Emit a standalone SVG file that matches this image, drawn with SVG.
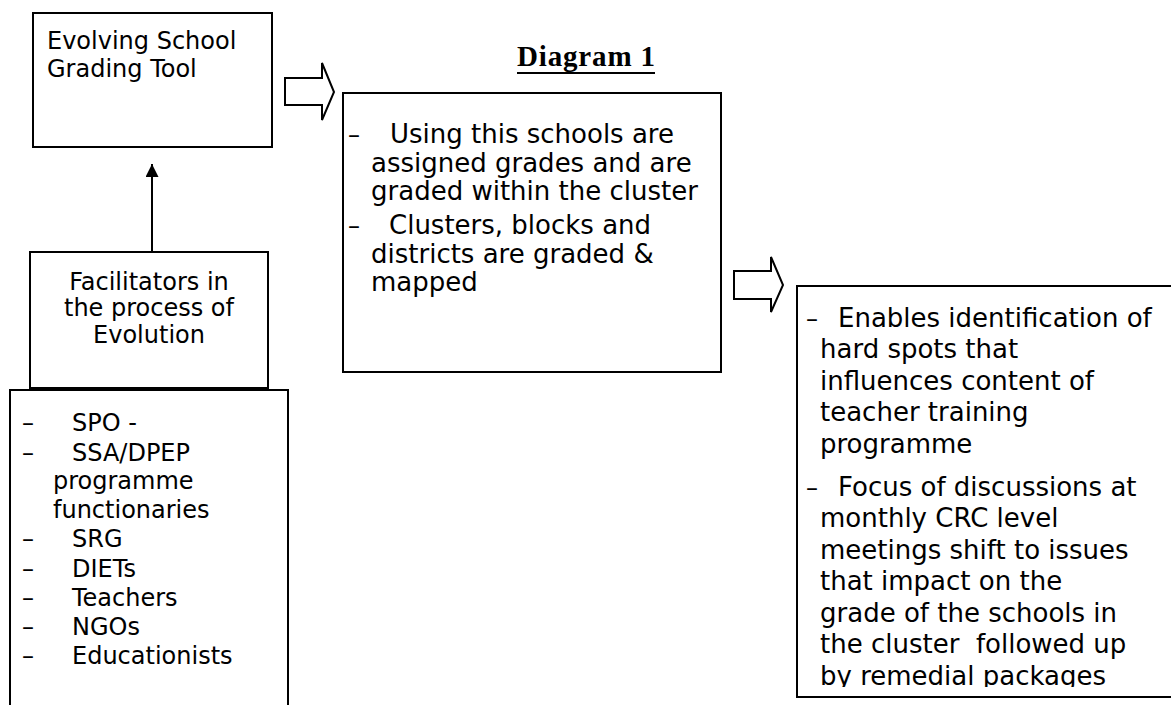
<svg xmlns="http://www.w3.org/2000/svg" width="1171" height="705" viewBox="0 0 1171 705">
<style>
.box{fill:#fff;stroke:#000;stroke-width:2}
.t{font-family:"DejaVu Sans",sans-serif;font-size:24px;fill:#000}
.b{font-size:26px}
.c{text-anchor:middle}
.blk{fill:#fff;stroke:#000;stroke-width:2;stroke-linejoin:miter}
.ttl{font-family:"Liberation Serif",serif;font-weight:bold;font-size:29px;fill:#000}
</style>
<defs>
<marker id="ah" viewBox="0 0 10 10" refX="10" refY="5" markerWidth="6.5" markerHeight="6.5" orient="auto" markerUnits="strokeWidth">
<path d="M0,0 L10,5 L0,10 z" fill="#000"/>
</marker>
<clipPath id="clip5"><rect x="797" y="286" width="380" height="401"/></clipPath>
</defs>
<rect width="1171" height="705" fill="#fff"/>

<g id="title">
<text class="ttl" x="517" y="66" textLength="138">Diagram 1</text>
<line x1="517" y1="73" x2="655" y2="73" stroke="#000" stroke-width="2"/>
</g>

<g id="node-tool">
<rect class="box" x="33" y="13" width="239" height="134"/>
<text class="t" x="47" y="49">Evolving School</text>
<text class="t" x="47" y="77">Grading Tool</text>
</g>

<g id="node-facilitators">
<rect class="box" x="30" y="252" width="238" height="136"/>
<text class="t c" x="149" y="290">Facilitators in</text>
<text class="t c" x="149" y="316">the process of</text>
<text class="t c" x="149" y="343">Evolution</text>
</g>

<g id="node-list">
<rect class="box" x="10" y="390" width="278" height="330"/>
<text class="t" x="22" y="431">–</text><text class="t" x="72" y="431">SPO -</text>
<text class="t" x="22" y="461">–</text><text class="t" x="72" y="461">SSA/DPEP</text>
<text class="t" x="53" y="489">programme</text>
<text class="t" x="53" y="518">functionaries</text>
<text class="t" x="22" y="547">–</text><text class="t" x="72" y="547">SRG</text>
<text class="t" x="22" y="577">–</text><text class="t" x="72" y="577">DIETs</text>
<text class="t" x="22" y="606">–</text><text class="t" x="72" y="606">Teachers</text>
<text class="t" x="22" y="635">–</text><text class="t" x="72" y="635">NGOs</text>
<text class="t" x="22" y="664">–</text><text class="t" x="72" y="664">Educationists</text>
</g>

<g id="node-grading">
<rect class="box" x="343" y="93" width="378" height="279"/>
<text class="t" x="348" y="143">–</text><text class="t b" x="390" y="143">Using this schools are</text>
<text class="t b" x="371" y="172">assigned grades and are</text>
<text class="t b" x="371" y="200">graded within the cluster</text>
<text class="t" x="348" y="234">–</text><text class="t b" x="389" y="234">Clusters, blocks and</text>
<text class="t b" x="371" y="263">districts are graded &amp;</text>
<text class="t b" x="371" y="291">mapped</text>
</g>

<g id="node-outcomes">
<rect class="box" x="797" y="286" width="380" height="411"/>
<g clip-path="url(#clip5)">
<text class="t" x="806" y="327">–</text><text class="t b" x="838" y="327">Enables identification of</text>
<text class="t b" x="820" y="358">hard spots that</text>
<text class="t b" x="820" y="390">influences content of</text>
<text class="t b" x="820" y="421">teacher training</text>
<text class="t b" x="820" y="453">programme</text>
<text class="t" x="806" y="496">–</text><text class="t b" x="838" y="496">Focus of discussions at</text>
<text class="t b" x="820" y="527">monthly CRC level</text>
<text class="t b" x="820" y="559">meetings shift to issues</text>
<text class="t b" x="820" y="590">that impact on the</text>
<text class="t b" x="820" y="622">grade of the schools in</text>
<text class="t b" x="820" y="653" xml:space="preserve">the cluster  followed up</text>
<text class="t b" x="820" y="685">by remedial packages</text>
</g>
</g>

<g id="connectors">
<line x1="152" y1="252" x2="152" y2="164" stroke="#000" stroke-width="2" marker-end="url(#ah)"/>
<polygon class="blk" points="285,78 322,78 322,63 334,92 322,120 322,105 285,105"/>
<polygon class="blk" points="734,271 771,271 771,257 783,285 771,312 771,299 734,299"/>
</g>
</svg>
